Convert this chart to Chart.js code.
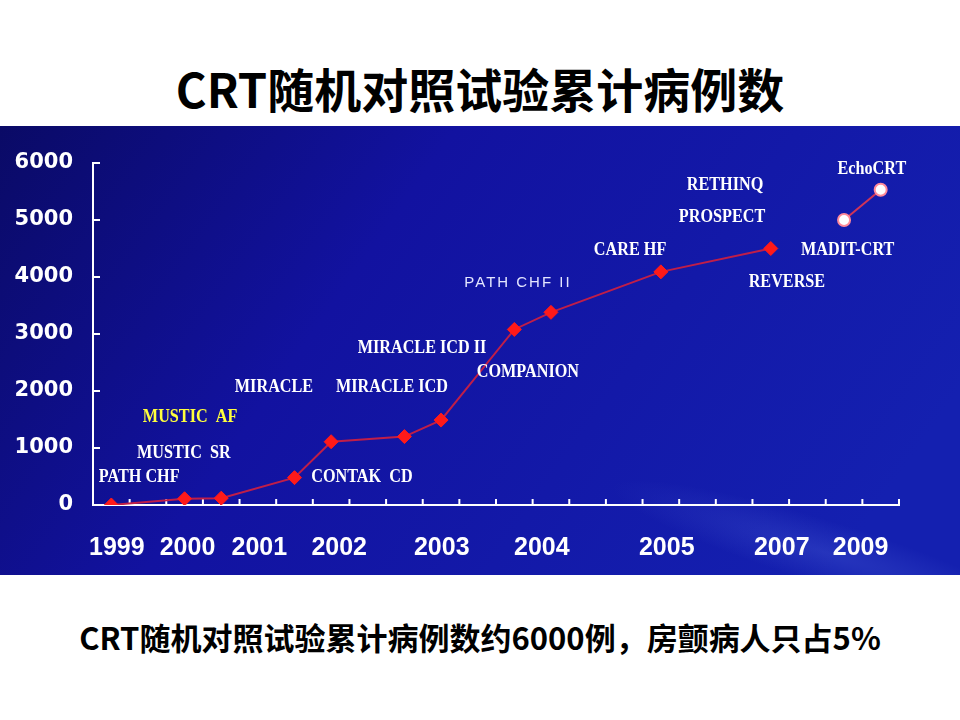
<!DOCTYPE html>
<html>
<head>
<meta charset="utf-8">
<script src="https://cdn.jsdelivr.net/npm/chart.js@4.4.0/dist/chart.umd.min.js"></script>
<style>
    body { margin: 0; background: #fff; width: 960px; height: 720px; overflow: hidden; position: relative; font-family: "Noto Sans CJK SC", sans-serif; }
    #title { position: absolute; left: 0; top: 62px; width: 960px; text-align: center; font-weight: bold; font-size: 47px; line-height: 52px; color: #000; }
    #panel { position: absolute; left: 0; top: 126px; }
    #caption { position: absolute; left: 0; top: 618px; width: 960px; text-align: center; font-weight: bold; font-size: 31px; line-height: 38px; color: #000; }
</style>
</head>
<body>
<div id="title">CRT随机对照试验累计病例数</div>
<canvas id="panel" width="960" height="449"></canvas>
<div id="caption">CRT随机对照试验累计病例数约6000例，房颤病人只占5%</div>
<script>
    // x runs over 22 equal slots; each trial sits in the middle of its slot
    const slotCount = 22;
    const trialX = [0.5, 2.5, 3.5, 5.5, 6.5, 8.5, 9.5, 11.5, 12.5, 15.5, 18.5];
    const trialCases = [0, 110, 120, 480, 1110, 1200, 1490, 3080, 3380, 4090, 4500];
    const laterX = [20.5, 21.5];
    const laterCases = [5000, 5530];

    const yearLabels = ['1999', '2000', '2001', '2002', '2003', '2004', '2005', '2007', '2009'];
    const yearX = [0.65, 2.58, 4.54, 6.72, 9.52, 12.25, 15.66, 18.8, 20.95];

    const yMax = 6000;
    const yStep = 1000;

    // trial names and where they sit in data units
    const noteNames = ['PATH CHF', 'MUSTIC  SR', 'MUSTIC  AF', 'MIRACLE', 'MIRACLE ICD', 'MIRACLE ICD II',
        'CONTAK  CD', 'COMPANION', 'PATH CHF II', 'CARE HF', 'RETHINQ', 'PROSPECT', 'MADIT-CRT', 'REVERSE', 'EchoCRT'];
    const noteX = [1.26, 2.48, 2.65, 4.94, 8.16, 8.98, 7.34, 11.87, 11.6, 14.66, 17.25, 17.17, 20.6, 18.94, 21.26];
    const noteY = [490, 910, 1530, 2070, 2070, 2750, 490, 2330, 3890, 4460, 5600, 5050, 4470, 3910, 5880];

    const panelBackground = {
        id: 'panelBackground',
        beforeDraw(chart) {
            const ctx = chart.ctx;
            const w = chart.width, h = chart.height;
            ctx.save();
            const g = ctx.createLinearGradient(0, 0, w * 0.8, h * 1.2);
            g.addColorStop(0, '#0a0a66');
            g.addColorStop(0.4, '#1212a0');
            g.addColorStop(1, '#1420b0');
            ctx.fillStyle = g;
            ctx.fillRect(0, 0, w, h);
            // soft light streak in the lower right
            ctx.translate(w * 0.86, h * 0.95);
            ctx.rotate(0.3);
            ctx.scale(7, 1);
            const s = ctx.createRadialGradient(0, 0, 0, 0, 0, 32);
            s.addColorStop(0, 'rgba(130,160,255,0.16)');
            s.addColorStop(1, 'rgba(130,160,255,0)');
            ctx.fillStyle = s;
            ctx.fillRect(-40, -40, 80, 80);
            ctx.restore();
        }
    };

    const innerTicks = {
        id: 'innerTicks',
        beforeDatasetsDraw(chart) {
            const ctx = chart.ctx;
            const x = chart.scales.x, y = chart.scales.y;
            const area = chart.chartArea;
            ctx.save();
            ctx.strokeStyle = '#ffffff';
            ctx.lineWidth = 2;
            ctx.beginPath();
            for (let i = 0; i <= slotCount; i++) {
                const px = x.getPixelForValue(i);
                ctx.moveTo(px, area.bottom);
                ctx.lineTo(px, area.bottom - 6);
            }
            y.ticks.forEach(t => {
                const py = y.getPixelForValue(t.value);
                ctx.moveTo(area.left, py);
                ctx.lineTo(area.left + 7, py);
            });
            ctx.stroke();
            ctx.restore();
        }
    };

    const trialNotes = {
        id: 'trialNotes',
        afterDatasetsDraw(chart) {
            const ctx = chart.ctx;
            const x = chart.scales.x, y = chart.scales.y;
            ctx.save();
            ctx.textAlign = 'center';
            ctx.textBaseline = 'middle';
            noteNames.forEach((name, i) => {
                const px = x.getPixelForValue(noteX[i]);
                const py = y.getPixelForValue(noteY[i]);
                ctx.save();
                if (name === 'PATH CHF II') {
                    ctx.font = '15px "Liberation Sans", sans-serif';
                    ctx.letterSpacing = '2px';
                    ctx.fillStyle = '#e4e6ff';
                    ctx.fillText(name, px, py);
                } else {
                    ctx.font = 'bold 18px "Liberation Serif", serif';
                    ctx.fillStyle = name === 'MUSTIC  AF' ? '#ffff3c' : '#ffffff';
                    ctx.translate(px, py);
                    ctx.scale(0.9, 1);
                    ctx.fillText(name, 0, 0);
                }
                ctx.restore();
            });
            ctx.restore();
        }
    };

    new Chart(document.getElementById('panel'), {
        type: 'line',
        data: {
            datasets: [{
                data: trialX.map((v, i) => ({ x: v, y: trialCases[i] })),
                borderColor: '#c01e48',
                borderWidth: 2,
                pointStyle: 'rectRot',
                pointRadius: 7,
                pointBackgroundColor: '#ff1a1a',
                pointBorderColor: '#ff1a1a',
                pointBorderWidth: 1,
                tension: 0
            }, {
                data: laterX.map((v, i) => ({ x: v, y: laterCases[i] })),
                borderColor: '#d03458',
                borderWidth: 2,
                pointStyle: 'circle',
                pointRadius: 6,
                pointBackgroundColor: '#ffffff',
                pointBorderColor: '#ff8a9a',
                pointBorderWidth: 2,
                tension: 0
            }]
        },
        options: {
            responsive: false,
            animation: false,
            layout: { padding: { top: 37, right: 61, left: 0, bottom: 0 } },
            plugins: { legend: { display: false }, tooltip: { enabled: false } },
            scales: {
                x: {
                    type: 'linear',
                    min: 0,
                    max: slotCount,
                    afterBuildTicks: axis => { axis.ticks = yearX.map(v => ({ value: v })); },
                    afterFit: axis => { axis.height = 70; },
                    grid: { drawOnChartArea: false, drawTicks: false, color: 'rgba(0,0,0,0)' },
                    border: { color: '#ffffff', width: 2 },
                    ticks: {
                        autoSkip: false,
                        maxRotation: 0,
                        padding: 28,
                        color: '#ffffff',
                        font: { family: '"Liberation Sans", sans-serif', weight: 'bold', size: 25 },
                        callback: (v, i) => yearLabels[i]
                    }
                },
                y: {
                    min: 0,
                    max: yMax,
                    afterFit: axis => { axis.width = 93; },
                    grid: { drawOnChartArea: false, drawTicks: false, color: 'rgba(0,0,0,0)' },
                    border: { color: '#ffffff', width: 2 },
                    ticks: {
                        stepSize: yStep,
                        padding: 20,
                        color: '#ffffff',
                        font: { family: '"DejaVu Sans", sans-serif', weight: 'bold', size: 21 },
                        callback: v => String(v)
                    }
                }
            }
        },
        plugins: [panelBackground, innerTicks, trialNotes]
    });
</script>
</body>
</html>
